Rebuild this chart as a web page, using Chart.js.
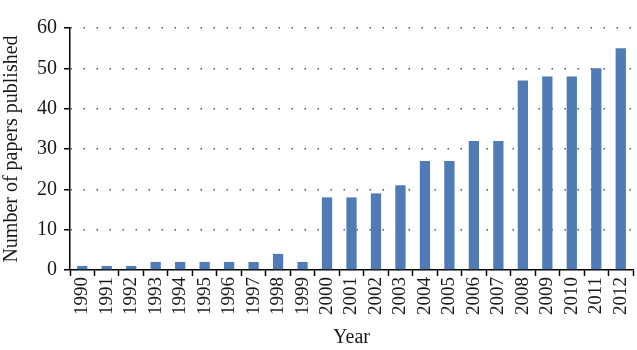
<!DOCTYPE html>
<html>
<head>
<meta charset="utf-8">
<script src="https://cdn.jsdelivr.net/npm/chart.js@4"></script>
<style>
  html, body { margin: 0; padding: 0; background: #fff; }
  #wrap { width: 637px; height: 350px; }
</style>
</head>
<body>
<div id="wrap"><canvas id="chart"></canvas></div>
<script>
const years = ['1990', '1991', '1992', '1993', '1994', '1995', '1996', '1997', '1998', '1999', '2000', '2001',
    '2002', '2003', '2004', '2005', '2006', '2007', '2008', '2009', '2010', '2011', '2012'];
const papers = [1, 1, 1, 2, 2, 2, 2, 2, 4, 2, 18, 18, 19, 21, 27, 27, 32, 32, 47, 48, 48, 50, 55];
const yTicks = [0, 10, 20, 30, 40, 50, 60];

const serif = "'Liberation Serif', 'DejaVu Serif', serif";

const ctx = document.getElementById('chart').getContext('2d');
new Chart(ctx, {
    type: 'bar',
    data: {
        labels: years,
        datasets: [{
            label: 'Number of papers published',
            data: papers,
            backgroundColor: '#4f7cb7',
            barPercentage: 0.42,
            categoryPercentage: 1
        }]
    },
    options: {
        responsive: true,
        maintainAspectRatio: false,
        animation: false,
        layout: { padding: { top: 28, right: 4, left: 0, bottom: 0 } },
        plugins: { legend: { display: false }, tooltip: { enabled: false } },
        scales: {
            x: {
                offset: true,
                afterFit: axis => {
                    axis.height = 80;
                    axis.paddingLeft = 0;
                    axis.paddingRight = 0;
                },
                grid: {
                    offset: true,
                    drawOnChartArea: false,
                    tickLength: 6,
                    tickColor: '#000',
                    tickWidth: 1.5
                },
                border: { color: '#000', width: 1.5 },
                ticks: {
                    color: '#1a1a1a',
                    font: { family: serif, size: 19 },
                    minRotation: 90,
                    maxRotation: 90,
                    autoSkip: false,
                    padding: 1
                },
                title: {
                    display: true,
                    text: 'Year',
                    color: '#1a1a1a',
                    font: { family: serif, size: 20 },
                    padding: { top: 0, bottom: 0 }
                }
            },
            y: {
                min: 0,
                max: 60,
                afterBuildTicks: axis => { axis.ticks = yTicks.map(v => ({ value: v })); },
                afterFit: axis => { axis.width = 70; },
                grid: {
                    color: ctx => ctx.tick && ctx.tick.value === 0 ? 'rgba(0,0,0,0)' : '#555',
                    lineWidth: 1.5,
                    tickLength: 6,
                    tickColor: '#000',
                    tickWidth: 1.5,
                    tickBorderDash: []
                },
                border: { color: '#000', width: 1.5, dash: [1.5, 11.5] },
                ticks: {
                    color: '#1a1a1a',
                    font: { family: serif, size: 20 },
                    padding: 7
                },
                title: {
                    display: true,
                    text: 'Number of papers published',
                    color: '#1a1a1a',
                    font: { family: serif, size: 20 },
                    padding: { top: 0, bottom: 0 }
                }
            }
        }
    }
});
</script>
</body>
</html>
